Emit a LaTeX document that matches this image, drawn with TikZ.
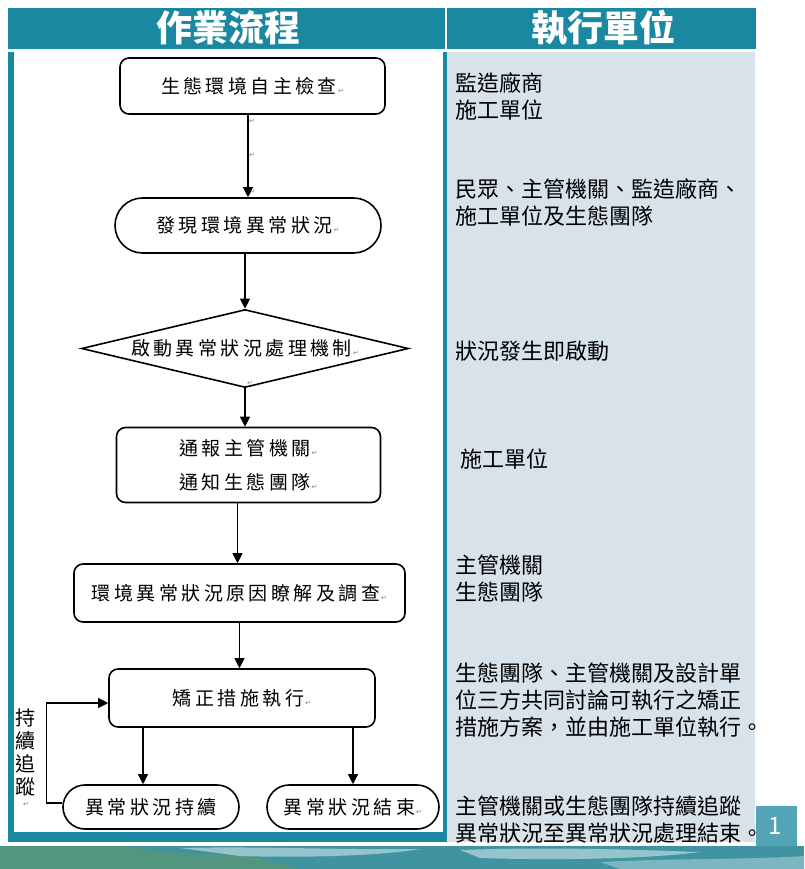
\documentclass[tikz,border=0pt]{standalone}
\usepackage{fontspec}
\setmainfont{Noto Sans CJK TC}
\newfontfamily\flowfont[LetterSpace=18]{Noto Sans CJK TC}
\newfontfamily\symfont{DejaVu Sans}
\usetikzlibrary{arrows.meta,shapes.geometric,shapes.misc,calc}
\definecolor{headteal}{RGB}{26,136,160}
\definecolor{panelblue}{RGB}{216,226,235}
\definecolor{landA}{RGB}{64,148,162}
\definecolor{landB}{RGB}{150,196,204}
\definecolor{landC}{RGB}{82,150,128}
\definecolor{pageteal}{RGB}{84,164,184}
\newcommand\retmk{{\symfont\fontsize{7}{7}\selectfont\color{gray}\,↵}}
\tikzset{
  box/.style={draw, line width=1.6pt, rounded corners=9pt, minimum width=#1, inner sep=0pt, font=\flowfont\fontsize{19}{34}\selectfont, align=center},
  stadium/.style={draw, line width=1.6pt, rounded rectangle, minimum width=#1, minimum height=44pt, inner sep=0pt, font=\flowfont\fontsize{19}{24}\selectfont},
  arr/.style={line width=1.1pt, -{Triangle[length=10pt,width=10pt]}},
  unit/.style={anchor=west, align=left, inner sep=0pt, font=\fontsize{22}{27}\selectfont},
  head/.style={text=white, font=\bfseries\fontsize{36}{36}\selectfont},
  stray/.style={inner sep=0pt, font=\symfont\fontsize{7}{7}\selectfont, text=gray}
}
\begin{document}
\begin{tikzpicture}[x=1pt,y=-1pt]
\useasboundingbox (0,0) rectangle (804,869);
\fill[white] (0,0) rectangle (804,869);
% header
\fill[headteal] (8,8) rectangle (756,49);
\draw[white, line width=2pt] (446,8) -- (446,49);
\node[head] (h1) at (228,28) {作業流程};
\node[head] (h2) at (603,28) {執行單位};
% panels
\fill[headteal] (8,52) rectangle (447,842);
\fill[white] (14,52) rectangle (443,832);
\fill[panelblue] (447,52) rectangle (755,842);
% page number block
\fill[pageteal] (756,806) rectangle (797,846);
\node[text=white, font=\fontsize{24}{24}\selectfont] (pg) at (775,826) {1};
% landscape
\fill[landA] (0,846) rectangle (804,869);
\fill[landC] (0,846) -- (120,846) .. controls (160,852) and (200,856) .. (240,854) -- (300,869) -- (0,869) -- cycle;
\fill[landB] (180,848) .. controls (260,846) and (330,850) .. (420,849) .. controls (380,856) and (300,858) .. (240,856) -- cycle;
\fill[landB] (460,850) .. controls (540,847) and (620,849) .. (700,852) .. controls (640,860) and (540,860) .. (480,858) -- cycle;
\fill[landB!70!landA] (600,862) .. controls (680,858) and (740,860) .. (804,856) -- (804,869) -- (620,869) -- cycle;
% flowchart nodes
\node[box=265pt, minimum height=56pt] (n1) at (252.5,86) {生態環境自主檢查\retmk};
\node[stadium=266pt, minimum height=55pt] (n2) at (248,225.5) {發現環境異常狀況\retmk};
\node[draw, line width=1.6pt, diamond, minimum width=327pt, minimum height=78pt, inner sep=0pt] (n3) at (245,348.5) {};
\node[font=\flowfont\fontsize{19}{24}\selectfont, inner sep=0pt] (n3t) at (n3.center) {啟動異常狀況處理機制\retmk};
\node[box=264pt, minimum height=75pt] (n4) at (248.5,465) {通報主管機關\retmk\\通知生態團隊\retmk};
\node[box=331pt, minimum height=58pt] (n5) at (239.5,593) {環境異常狀況原因瞭解及調查\retmk};
\node[box=266pt, minimum height=58pt] (n6) at (242,698) {矯正措施執行\retmk};
\node[stadium=176pt] (n7) at (151,807) {異常狀況持續};
\node[stadium=172pt] (n8) at (353,807) {異常狀況結束\retmk};
\node[font=\flowfont\fontsize{20}{23}\selectfont, align=center, inner sep=0pt] (track) at (26,752) {持\\續\\追\\蹤};
\node[stray] (s0) at (26,804) {↵};
\node[stray] (s1) at (252,121) {↵};
\node[stray] (s2) at (252,155) {↵};
\node[stray] (s3) at (252,192) {↵};
\node[stray] (s4) at (250,383) {↵};
% connectors
\draw[arr] (n1.south -| n2.north) -- (n2.north);
\draw[arr] (n2.south -| n3.north) -- (n3.north);
\draw[arr] (n3.south) -- (n3.south |- n4.north);
\draw[arr] ([xshift=-11pt]n4.south) -- ([xshift=-11pt]n4.south |- n5.north);
\draw[arr] (n5.south) -- (n5.south |- n6.north);
\draw[arr] ([xshift=-8pt]n7.north |- n6.south) -- ([xshift=-8pt]n7.north);
\draw[arr] (n8.north |- n6.south) -- (n8.north);
\draw[arr] ([yshift=4pt]n7.west) -- ++(-16,0) |- ([yshift=-5pt]n6.west);
% right column
\node[unit] (u1) at (455,96.5) {監造廠商\\施工單位};
\node[unit] (u2) at (455,203) {民眾、主管機關、監造廠商、\\施工單位及生態團隊};
\node[unit] (u3) at (455,351) {狀況發生即啟動};
\node[unit] (u4) at (460,459) {施工單位};
\node[unit] (u5) at (455,579) {主管機關\\生態團隊};
\node[unit] (u6) at (455,700) {生態團隊、主管機關及設計單\\位三方共同討論可執行之矯正\\措施方案，並由施工單位執行。};
\node[unit] (u7) at (455,820) {主管機關或生態團隊持續追蹤\\異常狀況至異常狀況處理結束。};
\end{tikzpicture}
\end{document}
